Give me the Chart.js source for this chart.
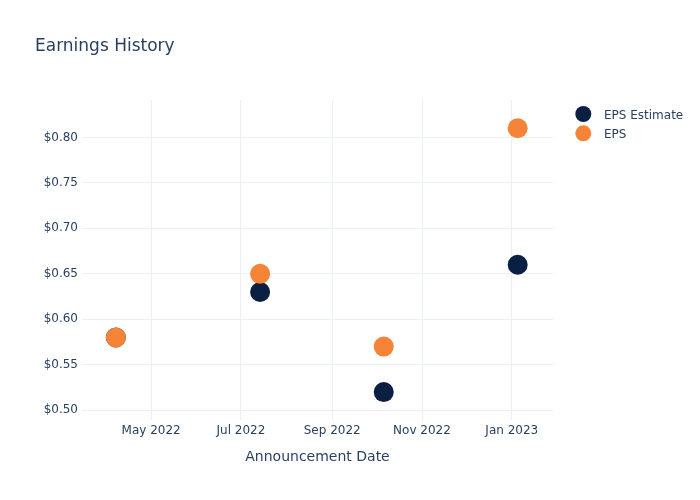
<!DOCTYPE html>
<html>
<head>
<meta charset="utf-8">
<script src="https://cdn.jsdelivr.net/npm/chart.js@4.4.1/dist/chart.umd.min.js"></script>
<style>
html,body{margin:0;padding:0;background:#fff;}
#wrap{width:700px;height:500px;position:relative;}
</style>
</head>
<body>
<div id="wrap"><canvas id="c" width="700" height="500"></canvas></div>
<script>
const chartTitle = 'Earnings History';
const xAxisTitle = 'Announcement Date';
const announcementDates = ['2022-04-07', '2022-07-14', '2022-10-06', '2023-01-05'];
const epsEstimate = [0.58, 0.63, 0.52, 0.66];
const epsActual = [0.58, 0.65, 0.57, 0.81];
const seriesNames = ['EPS Estimate', 'EPS'];
const xTickDates = ['2022-05-01', '2022-07-01', '2022-09-01', '2022-11-01', '2023-01-01'];
const xTickLabels = ['May 2022', 'Jul 2022', 'Sep 2022', 'Nov 2022', 'Jan 2023'];
const yTickValues = [0.50, 0.55, 0.60, 0.65, 0.70, 0.75, 0.80];
const xRange = ['2022-03-15', '2023-01-29'];
const yRange = [0.4893, 0.8411];

const FONT = '"DejaVu Sans", Verdana, sans-serif';
const TEXT = '#2a3f5f';
const GRID = '#ebf0f8';
const NAVY = '#0b1f42';
const ORANGE = '#f58436';

const toPts = (vals) => vals.map((v, i) => ({x: Date.parse(announcementDates[i]), y: v}));
const tickMap = {};
xTickDates.forEach((d, i) => { tickMap[Date.parse(d)] = xTickLabels[i]; });

const decorPlugin = {
  id: 'decor',
  afterDraw(chart) {
    const ctx = chart.ctx;
    ctx.save();
    ctx.fillStyle = TEXT;
    ctx.font = '17px ' + FONT;
    ctx.textBaseline = 'alphabetic';
    ctx.textAlign = 'left';
    ctx.fillText(chartTitle, 35, 51);
    ctx.font = '12px ' + FONT;
    chart.data.datasets.forEach((ds, i) => {
      const y = 114 + i * 19.3;
      ctx.beginPath();
      ctx.arc(583.3, y, 8, 0, Math.PI * 2);
      ctx.fillStyle = ds.backgroundColor;
      ctx.fill();
      ctx.fillStyle = TEXT;
      ctx.fillText(ds.label, 604, y + 5);
    });
    ctx.restore();
  }
};

new Chart(document.getElementById('c'), {
  type: 'scatter',
  data: {
    datasets: [
      {label: seriesNames[0], data: toPts(epsEstimate), backgroundColor: NAVY, borderColor: NAVY, pointRadius: 10, pointHoverRadius: 10, borderWidth: 0, order: 1},
      {label: seriesNames[1], data: toPts(epsActual), backgroundColor: ORANGE, borderColor: ORANGE, pointRadius: 10, pointHoverRadius: 10, borderWidth: 0, order: 0}
    ]
  },
  options: {
    responsive: false,
    animation: false,
    layout: {padding: {left: 0, top: 100, right: 147, bottom: 0}},
    plugins: {legend: {display: false}, title: {display: false}, tooltip: {enabled: false}},
    scales: {
      x: {
        type: 'linear',
        min: Date.parse(xRange[0]),
        max: Date.parse(xRange[1]),
        afterBuildTicks(scale) { scale.ticks = xTickDates.map(d => ({value: Date.parse(d)})); },
        afterFit(scale) { scale.height = 80; },
        grid: {color: GRID, drawTicks: false, lineWidth: 1},
        border: {display: false},
        ticks: {
          color: TEXT, font: {family: FONT, size: 12}, padding: 4, maxRotation: 0, autoSkip: false,
          callback: (v) => tickMap[v] || ''
        },
        title: {display: true, text: xAxisTitle, color: TEXT, font: {family: FONT, size: 14}, padding: {top: 0, bottom: 34}}
      },
      y: {
        type: 'linear',
        min: yRange[0],
        max: yRange[1],
        afterBuildTicks(scale) { scale.ticks = yTickValues.map(v => ({value: v})); },
        afterFit(scale) { scale.width = 82; },
        grid: {color: GRID, drawTicks: false, lineWidth: 1},
        border: {display: false},
        ticks: {
          color: TEXT, font: {family: FONT, size: 12}, padding: 4, autoSkip: false,
          callback: (v) => '$' + Number(v).toFixed(2)
        }
      }
    }
  },
  plugins: [decorPlugin]
});
</script>
</body>
</html>
